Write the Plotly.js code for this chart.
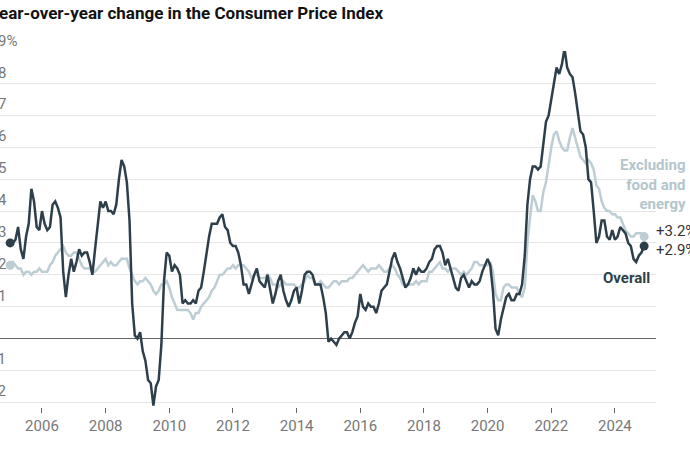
<!DOCTYPE html>
<html>
<head>
<meta charset="utf-8">
<script src="https://cdn.plot.ly/plotly-3.0.1.min.js"></script>
<style>
  html, body { margin: 0; padding: 0; background: #fff; }
  #chart { width: 690px; height: 450px; }
</style>
</head>
<body>
<div id="chart"></div>
<script>
// Monthly data, Jan 2005 – Dec 2024
const startYear = 2005;
const overall = [
  3.0, 3.0, 3.1, 3.5, 2.8, 2.5, 3.2, 3.6, 4.7, 4.3, 3.5, 3.4,
  4.0, 3.6, 3.4, 3.5, 4.2, 4.3, 4.1, 3.8, 2.1, 1.3, 2.0, 2.5,
  2.1, 2.4, 2.8, 2.6, 2.7, 2.7, 2.4, 2.0, 2.8, 3.5, 4.3, 4.1,
  4.3, 4.0, 4.0, 3.9, 4.2, 5.0, 5.6, 5.4, 4.9, 3.7, 1.1, 0.1,
  0.0, 0.2, -0.4, -0.7, -1.3, -1.4, -2.1, -1.5, -1.3, -0.2, 1.8, 2.7,
  2.6, 2.1, 2.3, 2.2, 2.0, 1.1, 1.2, 1.1, 1.1, 1.2, 1.1, 1.5,
  1.6, 2.1, 2.7, 3.2, 3.6, 3.6, 3.6, 3.8, 3.9, 3.5, 3.4, 3.0,
  2.9, 2.9, 2.7, 2.3, 1.7, 1.7, 1.4, 1.7, 2.0, 2.2, 1.8, 1.7,
  1.6, 2.0, 1.5, 1.1, 1.4, 1.8, 2.0, 1.5, 1.2, 1.0, 1.2, 1.5,
  1.6, 1.1, 1.5, 2.0, 2.1, 2.1, 2.0, 1.7, 1.7, 1.7, 1.3, 0.8,
  -0.1, 0.0, -0.1, -0.2, 0.0, 0.1, 0.2, 0.2, 0.0, 0.2, 0.5, 0.7,
  1.4, 1.0, 0.9, 1.1, 1.0, 1.0, 0.8, 1.1, 1.5, 1.6, 1.7, 2.1,
  2.5, 2.7, 2.4, 2.2, 1.9, 1.6, 1.7, 1.9, 2.2, 2.0, 2.2, 2.1,
  2.1, 2.2, 2.4, 2.5, 2.8, 2.9, 2.9, 2.7, 2.3, 2.5, 2.2, 1.9,
  1.6, 1.5, 1.9, 2.0, 1.8, 1.6, 1.8, 1.7, 1.7, 1.8, 2.1, 2.3,
  2.5, 2.3, 1.5, 0.3, 0.1, 0.6, 1.0, 1.3, 1.4, 1.2, 1.2, 1.4,
  1.4, 1.7, 2.6, 4.2, 5.0, 5.4, 5.4, 5.3, 5.4, 6.2, 6.8, 7.0,
  7.5, 7.9, 8.5, 8.3, 8.6, 9.1, 8.5, 8.3, 8.2, 7.7, 7.1, 6.5,
  6.4, 6.0, 5.0, 4.9, 4.0, 3.0, 3.2, 3.7, 3.7, 3.2, 3.1, 3.4,
  3.1, 3.2, 3.5, 3.4, 3.3, 3.0, 2.9, 2.5, 2.4, 2.6, 2.7, 2.9
];
const core = [
  2.3, 2.4, 2.3, 2.2, 2.2, 2.0, 2.1, 2.1, 2.0, 2.1, 2.1, 2.2,
  2.1, 2.1, 2.1, 2.3, 2.4, 2.6, 2.7, 2.8, 2.9, 2.7, 2.6, 2.6,
  2.7, 2.7, 2.5, 2.3, 2.2, 2.2, 2.2, 2.1, 2.1, 2.2, 2.3, 2.4,
  2.5, 2.3, 2.4, 2.3, 2.3, 2.4, 2.5, 2.5, 2.5, 2.2, 2.0, 1.8,
  1.7, 1.8, 1.8, 1.9, 1.8, 1.7, 1.5, 1.4, 1.5, 1.7, 1.7, 1.8,
  1.6, 1.3, 1.1, 0.9, 0.9, 0.9, 0.9, 0.9, 0.8, 0.6, 0.8, 0.8,
  1.0, 1.1, 1.2, 1.3, 1.5, 1.6, 1.8, 2.0, 2.0, 2.1, 2.2, 2.2,
  2.3, 2.2, 2.3, 2.3, 2.3, 2.2, 2.1, 1.9, 2.0, 2.0, 1.9, 1.9,
  1.9, 2.0, 1.9, 1.7, 1.7, 1.6, 1.7, 1.8, 1.7, 1.7, 1.7, 1.7,
  1.6, 1.6, 1.7, 1.8, 2.0, 1.9, 1.9, 1.7, 1.7, 1.8, 1.7, 1.6,
  1.6, 1.7, 1.8, 1.8, 1.7, 1.8, 1.8, 1.8, 1.9, 1.9, 2.0, 2.1,
  2.2, 2.3, 2.2, 2.1, 2.2, 2.2, 2.2, 2.3, 2.2, 2.1, 2.1, 2.2,
  2.3, 2.2, 2.0, 1.9, 1.7, 1.7, 1.7, 1.7, 1.7, 1.8, 1.7, 1.8,
  1.8, 1.8, 2.1, 2.1, 2.2, 2.3, 2.4, 2.2, 2.2, 2.1, 2.2, 2.2,
  2.2, 2.1, 2.0, 2.1, 2.0, 2.1, 2.2, 2.4, 2.4, 2.3, 2.3, 2.3,
  2.3, 2.4, 2.1, 1.4, 1.2, 1.2, 1.6, 1.7, 1.7, 1.6, 1.6, 1.6,
  1.4, 1.3, 1.6, 3.0, 3.8, 4.5, 4.3, 4.0, 4.0, 4.6, 4.9, 5.5,
  6.0, 6.4, 6.5, 6.2, 6.0, 5.9, 5.9, 6.3, 6.6, 6.3, 6.0, 5.7,
  5.6, 5.5, 5.6, 5.5, 5.3, 4.8, 4.7, 4.3, 4.1, 4.0, 4.0, 3.9,
  3.9, 3.8, 3.8, 3.6, 3.4, 3.3, 3.2, 3.2, 3.3, 3.3, 3.3, 3.2
];
const xTickVals = [2006, 2008, 2010, 2012, 2014, 2016, 2018, 2020, 2022, 2024];
const xTickText = ["2006", "2008", "2010", "2012", "2014", "2016", "2018", "2020", "2022", "2024"];
const yTickVals = [9, 8, 7, 6, 5, 4, 3, 2, 1, 0, -1, -2];
const yTickText = ["9%", "8", "7", "6", "5", "4", "3", "2", "1", "0", "\u22121", "\u22122"];
const titleText = "Year-over-year change in the Consumer Price Index";
const coreLabel = "Excluding<br>food and<br>energy";
const overallLabel = "Overall";

const months = overall.map((_, i) => startYear + i / 12);
const last = overall.length - 1;

const DARK = "#2d3f4a";
const LIGHT = "#bccdd3";
const FONT = "Roboto, 'Noto Sans', sans-serif";

const traces = [
  { x: months, y: core, mode: "lines", line: { color: LIGHT, width: 2.5 }, hoverinfo: "skip", cliponaxis: false },
  { x: months, y: overall, mode: "lines", line: { color: DARK, width: 2.5 }, hoverinfo: "skip", cliponaxis: false },
  { x: [months[0], months[last]], y: [core[0], core[last]], mode: "markers",
    marker: { color: LIGHT, size: 9 }, hoverinfo: "skip", cliponaxis: false },
  { x: [months[0], months[last]], y: [overall[0], overall[last]], mode: "markers",
    marker: { color: DARK, size: 9 }, hoverinfo: "skip", cliponaxis: false }
];

const annotations = [];
annotations.push({
  xref: "paper", yref: "paper", x: 0, y: 1, xshift: -13, yshift: 38,
  xanchor: "left", yanchor: "middle", showarrow: false,
  text: "<b>" + titleText + "</b>", font: { family: FONT, size: 17, color: "#121212" }
});
yTickVals.forEach((v, i) => {
  if (v === 0) return;
  const neg = v < 0;
  annotations.push({
    xref: "paper", yref: "y", x: 0, y: v,
    xanchor: neg ? "right" : "left", xshift: neg ? 8 : -4,
    yanchor: "bottom", yshift: 0, showarrow: false,
    text: yTickText[i], font: { family: FONT, size: 15, color: "#777" }
  });
});
annotations.push({
  xref: "x", yref: "y", x: months[last], y: core[last], xanchor: "left", yanchor: "middle",
  xshift: 10, yshift: 6, showarrow: false,
  text: "+" + core[last].toFixed(1) + "%", font: { family: FONT, size: 15, color: "#333" }
});
annotations.push({
  xref: "x", yref: "y", x: months[last], y: overall[last], xanchor: "left", yanchor: "middle",
  xshift: 10, yshift: -4, showarrow: false,
  text: "+" + overall[last].toFixed(1) + "%", font: { family: FONT, size: 15, color: "#333" }
});
annotations.push({
  xref: "paper", yref: "y", x: 1, y: 5.78, xanchor: "right", yanchor: "top", xshift: 32,
  showarrow: false, align: "right",
  text: "<b>" + coreLabel + "</b>", font: { family: FONT, size: 15, color: "#b3c6cc" }
});
annotations.push({
  xref: "paper", yref: "y", x: 1, y: 1.9, xanchor: "right", yanchor: "middle", xshift: -4,
  showarrow: false,
  text: "<b>" + overallLabel + "</b>", font: { family: FONT, size: 15, color: DARK }
});

const layout = {
  width: 690, height: 450,
  margin: { l: 0, r: 34, t: 51, b: 43 },
  paper_bgcolor: "#fff", plot_bgcolor: "#fff",
  showlegend: false,
  font: { family: FONT },
  xaxis: {
    range: [2004.681, 2025.29], tickvals: xTickVals, ticktext: xTickText,
    showgrid: false, zeroline: false, showline: false,
    ticks: "outside", ticklen: 5, tickwidth: 1, tickcolor: "#666",
    tickfont: { family: FONT, size: 15, color: "#777" }
  },
  yaxis: {
    range: [-2.146, 9.02], tickvals: yTickVals, showticklabels: false,
    showgrid: true, gridcolor: "#e6e6e6", gridwidth: 1,
    zeroline: true, zerolinecolor: "#666", zerolinewidth: 1.5,
    showline: false, ticks: ""
  },
  annotations: annotations
};

Plotly.newPlot("chart", traces, layout, { displayModeBar: false, staticPlot: true });
</script>
</body>
</html>
